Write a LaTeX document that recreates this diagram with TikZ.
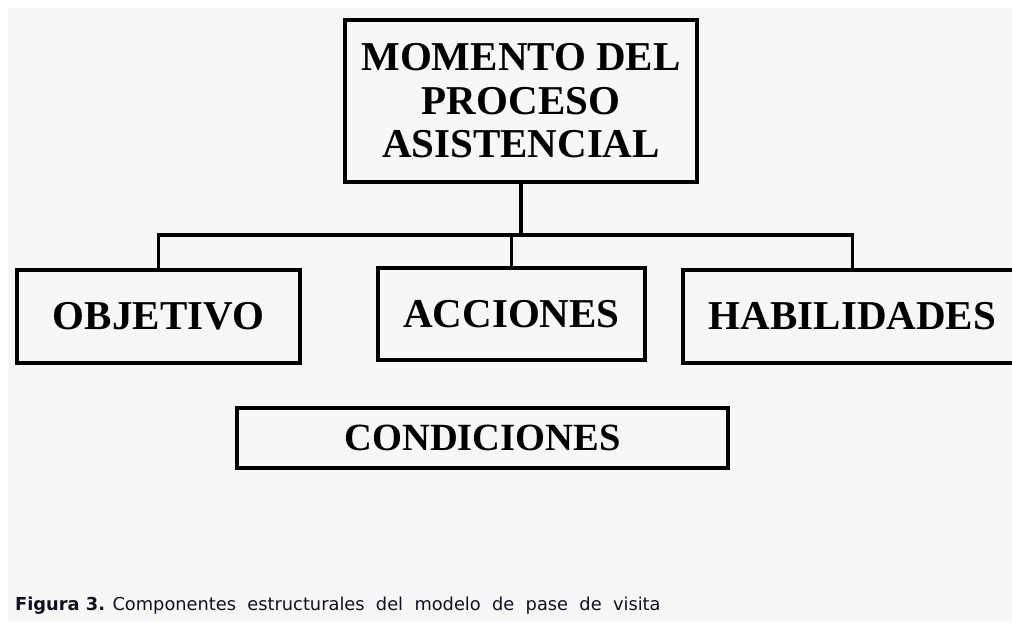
\documentclass[tikz,border=0pt]{standalone}
\usepackage{fontspec}
\setmainfont{Liberation Serif}
\newfontfamily\capfont{DejaVu Sans}
\definecolor{bg}{HTML}{F7F7F7}
\definecolor{captxt}{HTML}{101020}
\begin{document}
\begin{tikzpicture}[x=1pt,y=-1pt,
  boxstyle/.style={draw=black,line width=3.6pt,rectangle,inner sep=0pt,
    font=\fontsize{41}{43.5}\selectfont\bfseries,align=center},
  conn/.style={draw=black,line width=3.2pt}]
\useasboundingbox (0,0) rectangle (1012,622);
\fill[white] (0,0) rectangle (1012,622);
\fill[bg] (8,8) rectangle (1012,622);
\node[boxstyle,minimum width=352pt,minimum height=162pt] (top) at (521,101)
  {MOMENTO DEL\\PROCESO\\ASISTENCIAL};
\node[boxstyle,minimum width=283pt,minimum height=93pt] (obj) at (158.5,316.5) {OBJETIVO};
\node[boxstyle,minimum width=267pt,minimum height=92pt] (acc) at (511.5,314) {ACCIONES};
\node[boxstyle,minimum width=339pt,minimum height=93pt] (hab) at (852.5,316.5) {HABILIDADES};
\node[boxstyle,minimum width=491pt,minimum height=60pt,font=\fontsize{38.5}{40}\selectfont\bfseries] (cond) at (482.5,438) {CONDICIONES};
\coordinate (bus) at (520,235);
\draw[conn] (top.south) -- (top.south |- bus);
\draw[conn] (obj.north) -- (obj.north |- bus) -- (hab.north |- bus) -- (hab.north);
\draw[conn] (acc.north) -- (acc.north |- bus);
\node[anchor=base west,inner sep=0pt,text=captxt,font=\capfont\fontsize{17.8}{21}\selectfont] (cap) at (15,610)
  {\textbf{Figura 3.} Componentes\ \ estructurales\ \ del\ \ modelo\ \ de\ \ pase\ \ de\ \ visita};
\end{tikzpicture}
\end{document}
